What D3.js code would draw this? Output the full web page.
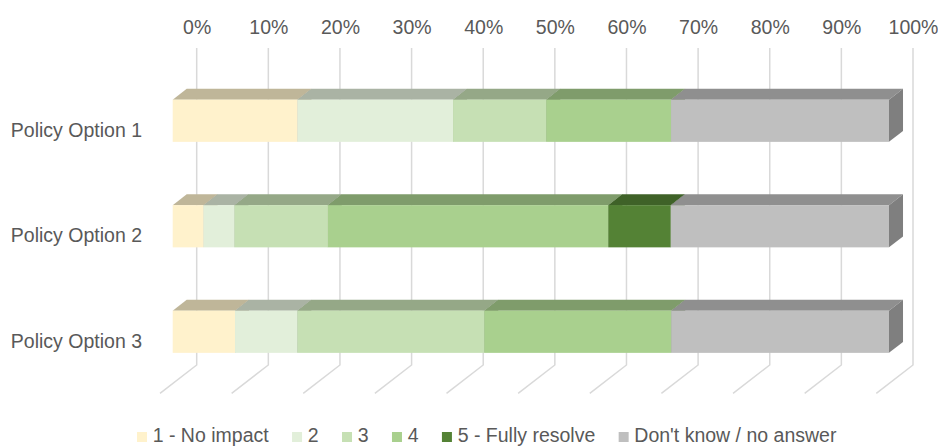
<!DOCTYPE html>
<html>
<head>
<meta charset="utf-8">
<script src="https://cdn.jsdelivr.net/npm/d3@7/dist/d3.min.js"></script>
<style>
  html, body { margin: 0; padding: 0; background: #ffffff; }
  svg { display: block; }
  text { font-family: "Liberation Sans", Arial, sans-serif; fill: #595959; }
</style>
</head>
<body>
<script>
// Response shares per policy option (percent of respondents)
const categories = ["Policy Option 1", "Policy Option 2", "Policy Option 3"];
const seriesNames = ["1 - No impact", "2", "3", "4", "5 - Fully resolve", "Don't know / no answer"];
const noImpact     = [17.4, 4.3, 8.7];
const level2       = [21.7, 4.3, 8.7];
const level3       = [13.0, 13.0, 26.1];
const level4       = [17.4, 39.1, 26.1];
const fullyResolve = [0.0, 8.7, 0.0];
const dontKnow     = [30.4, 30.4, 30.4];
const tickValues   = [0, 0.1, 0.2, 0.3, 0.4, 0.5, 0.6, 0.7, 0.8, 0.9, 1.0];
const seriesColors = ["#FFF2CC", "#E2EFDA", "#C6E0B4", "#A9D08E", "#548235", "#BFBFBF"];

const W = 938, H = 447;
const FONT = "19.5px";
const seriesValues = [noImpact, level2, level3, level4, fullyResolve, dontKnow];

const rows = categories.map((c, i) => {
  const r = { category: c };
  seriesNames.forEach((s, j) => { r[s] = seriesValues[j][i]; });
  return r;
});

const stacked = d3.stack().keys(seriesNames).offset(d3.stackOffsetExpand)(rows);

const svg = d3.select("body").append("svg").attr("width", W).attr("height", H);

// Back wall scales; the floor recedes along (DX, DY) from back to front
const x = d3.scaleLinear().domain([0, 1]).range([196.7, 913]);
const y = d3.scaleBand().domain(categories).range([49.5, 366]).paddingInner(0.6).paddingOuter(0.3);
const wallTop = 48, wallBottom = 365;
const DX = -36.7, DY = 28.3;
const fFront = 0.654, fBack = 0.272;
const P = (v, yb, f) => [x(v) + f * DX, yb + f * DY];

const shade = (c, k) => {
  const r = d3.rgb(c);
  return d3.rgb(r.r * k, r.g * k, r.b * k).formatHex();
};

// Gridlines: back wall verticals plus floor diagonals
svg.append("g").selectAll("path")
  .data(tickValues)
  .join("path")
  .attr("d", t => `M${x(t)},${wallTop}L${x(t)},${wallBottom}L${x(t) + DX},${wallBottom + DY}`)
  .attr("fill", "none")
  .attr("stroke", "#d9d9d9")
  .attr("stroke-width", 1.5);

// Percentage axis along the top
const xAxis = svg.append("g")
  .attr("transform", "translate(0,34)")
  .call(d3.axisTop(x).tickValues(tickValues).tickFormat(d3.format(".0%")).tickSize(0).tickPadding(0));
xAxis.select(".domain").remove();
xAxis.selectAll("text").style("font-size", FONT).attr("fill", "#595959");

// Category labels sit at the front edge of the floor
const yAxis = svg.append("g")
  .attr("transform", `translate(142,${DY})`)
  .call(d3.axisLeft(y).tickSize(0).tickPadding(0));
yAxis.select(".domain").remove();
yAxis.selectAll("text").style("font-size", FONT).attr("fill", "#595959");

// 3D stacked bars
const bars = svg.append("g");
categories.forEach((cat, ci) => {
  const yTop = y(cat), yBot = y(cat) + y.bandwidth();
  const g = bars.append("g");
  stacked.forEach((layer, si) => {
    const [v0, v1] = layer[ci];
    if (v1 - v0 <= 0) return;
    const col = seriesColors[si];
    const top = [P(v0, yTop, fFront), P(v1, yTop, fFront), P(v1, yTop, fBack), P(v0, yTop, fBack)];
    const side = [P(v1, yTop, fFront), P(v1, yBot, fFront), P(v1, yBot, fBack), P(v1, yTop, fBack)];
    g.append("polygon").attr("points", top.map(p => p.join(",")).join(" ")).attr("fill", shade(col, 0.75));
    g.append("polygon").attr("points", side.map(p => p.join(",")).join(" ")).attr("fill", shade(col, 0.665));
    const a = P(v0, yTop, fFront), b = P(v1, yBot, fFront);
    g.append("rect").attr("x", a[0]).attr("y", a[1])
      .attr("width", b[0] - a[0]).attr("height", b[1] - a[1]).attr("fill", col);
  });
});

// Legend
const legend = svg.append("g");
let lx = 137;
seriesNames.forEach((s, i) => {
  legend.append("rect").attr("x", lx).attr("y", 432).attr("width", 10).attr("height", 10).attr("fill", seriesColors[i]);
  const t = legend.append("text").attr("x", lx + 15.7).attr("y", 442).style("font-size", FONT).text(s);
  lx += 15.7 + t.node().getComputedTextLength() + 23.4;
});
</script>
</body>
</html>
